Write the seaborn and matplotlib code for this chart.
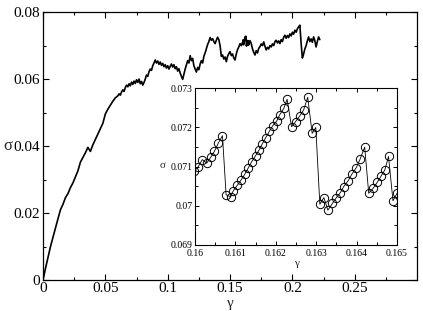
import numpy as np
import pandas as pd
import matplotlib
matplotlib.use("Agg")
import matplotlib.pyplot as plt
import seaborn as sns
from matplotlib.ticker import FixedLocator, FuncFormatter

# ---------------- data ----------------
gamma_rise = [0.000, 0.002, 0.004, 0.006, 0.008, 0.010, 0.012, 0.014, 0.016, 0.018,
              0.020, 0.022, 0.024, 0.026, 0.028, 0.030, 0.032, 0.034, 0.036, 0.038,
              0.040, 0.042, 0.044, 0.046, 0.048, 0.050, 0.052, 0.054, 0.056, 0.058]
sigma_rise = [0.0000, 0.0035, 0.0068, 0.0100, 0.0128, 0.0156, 0.0183, 0.0210, 0.0226, 0.0246,
              0.0258, 0.0276, 0.0290, 0.0308, 0.0326, 0.0352, 0.0366, 0.0380, 0.0396, 0.0384,
              0.0404, 0.0420, 0.0436, 0.0452, 0.0468, 0.0496, 0.0510, 0.0522, 0.0534, 0.0544]

gamma_mid = [0.060, 0.061, 0.062, 0.063, 0.064, 0.065, 0.066, 0.067, 0.068, 0.069,
             0.070, 0.071, 0.072, 0.073, 0.074, 0.075, 0.076, 0.077, 0.078, 0.079,
             0.080, 0.081, 0.082, 0.083, 0.084, 0.085, 0.086, 0.087, 0.088, 0.089,
             0.090, 0.091, 0.092, 0.093, 0.094, 0.095, 0.096, 0.097, 0.098, 0.099,
             0.100, 0.101, 0.102, 0.103, 0.104, 0.105, 0.106, 0.107, 0.108, 0.109,
             0.110, 0.111, 0.112, 0.113, 0.114, 0.115, 0.116, 0.117, 0.118, 0.119,
             0.120, 0.121, 0.122, 0.123, 0.124, 0.125, 0.126, 0.127, 0.128, 0.129,
             0.130, 0.131, 0.132, 0.133, 0.134, 0.135, 0.136, 0.137, 0.138, 0.139,
             0.140, 0.141, 0.142, 0.143, 0.144, 0.145, 0.146, 0.147, 0.148, 0.149,
             0.150, 0.151, 0.152, 0.153, 0.154, 0.155, 0.156, 0.157, 0.158, 0.159]
sigma_mid = [0.0550, 0.0556, 0.0552, 0.0562, 0.0568, 0.0563, 0.0575, 0.0582, 0.0577, 0.0586,
             0.0580, 0.0591, 0.0584, 0.0594, 0.0587, 0.0598, 0.0590, 0.0600, 0.0586, 0.0593,
             0.0582, 0.0590, 0.0600, 0.0612, 0.0608, 0.0622, 0.0630, 0.0626, 0.0640, 0.0648,
             0.0657, 0.0648, 0.0654, 0.0644, 0.0651, 0.0641, 0.0647, 0.0637, 0.0643, 0.0633,
             0.0640, 0.0630, 0.0638, 0.0645, 0.0636, 0.0643, 0.0631, 0.0637, 0.0624, 0.0631,
             0.0618, 0.0608, 0.0599, 0.0615, 0.0630, 0.0642, 0.0655, 0.0648, 0.0670, 0.0655,
             0.0662, 0.0640, 0.0630, 0.0621, 0.0635, 0.0628, 0.0645, 0.0655, 0.0648, 0.0668,
             0.0678, 0.0690, 0.0703, 0.0712, 0.0724, 0.0716, 0.0721, 0.0712, 0.0706, 0.0716,
             0.0725, 0.0718, 0.0700, 0.0668, 0.0672, 0.0660, 0.0666, 0.0652, 0.0668, 0.0676,
             0.0682, 0.0670, 0.0675, 0.0663, 0.0657, 0.0675, 0.0688, 0.0696, 0.0706, 0.0700]

# inset (zoomed window gamma 0.160 - 0.165)
gamma_zoom = [0.15998, 0.16008, 0.16018, 0.16029, 0.16039, 0.16048, 0.16058, 0.16068,
              0.16077, 0.16088, 0.16095, 0.16105, 0.16114, 0.16124, 0.16132, 0.16140,
              0.16150, 0.16159, 0.16167, 0.16175, 0.16184, 0.16192, 0.16202, 0.16210,
              0.16220, 0.16228, 0.16239, 0.16249, 0.16259, 0.16269, 0.16279, 0.16290,
              0.16299, 0.16309, 0.16319, 0.16329, 0.16340, 0.16350, 0.16360, 0.16368,
              0.16379, 0.16389, 0.16399, 0.16409, 0.16420, 0.16430, 0.16441, 0.16451,
              0.16460, 0.16470, 0.16479, 0.16490, 0.16500]
sigma_zoom = [0.07088, 0.07100, 0.07118, 0.07109, 0.07124, 0.07139, 0.07161, 0.07179,
              0.07028, 0.07023, 0.07039, 0.07053, 0.07066, 0.07082, 0.07097, 0.07112,
              0.07128, 0.07143, 0.07159, 0.07174, 0.07190, 0.07204, 0.07216, 0.07233,
              0.07249, 0.07272, 0.07202, 0.07215, 0.07229, 0.07245, 0.07277, 0.07185,
              0.07200, 0.07004, 0.07021, 0.06989, 0.07006, 0.07021, 0.07034, 0.07049,
              0.07064, 0.07082, 0.07097, 0.07120, 0.07150, 0.07032, 0.07045, 0.07060,
              0.07075, 0.07092, 0.07126, 0.07013, 0.07032]

gamma_end = [0.166, 0.167, 0.168, 0.169, 0.170, 0.171, 0.172, 0.173, 0.174, 0.175,
             0.176, 0.177, 0.178, 0.179, 0.180, 0.181, 0.182, 0.183, 0.184, 0.185,
             0.186, 0.187, 0.188, 0.189, 0.190, 0.191, 0.192, 0.193, 0.194, 0.195,
             0.196, 0.197, 0.198, 0.199, 0.200, 0.201, 0.202, 0.203, 0.204, 0.205,
             0.206, 0.207, 0.208, 0.209, 0.210, 0.211, 0.212, 0.213, 0.214, 0.215,
             0.216, 0.217, 0.218, 0.219, 0.220, 0.221, 0.222]
sigma_end = [0.0715, 0.0706, 0.0690, 0.0680, 0.0672, 0.0685, 0.0678, 0.0692, 0.0697, 0.0705,
             0.0700, 0.0711, 0.0698, 0.0687, 0.0695, 0.0690, 0.0700, 0.0696, 0.0705, 0.0700,
             0.0712, 0.0716, 0.0708, 0.0714, 0.0706, 0.0718, 0.0712, 0.0725, 0.0731, 0.0722,
             0.0730, 0.0724, 0.0735, 0.0729, 0.0740, 0.0734, 0.0746, 0.0740, 0.0750, 0.0756,
             0.0761, 0.0707, 0.0663, 0.0675, 0.0690, 0.0700, 0.0714, 0.0726, 0.0712, 0.0720,
             0.0710, 0.0726, 0.0715, 0.0696, 0.0712, 0.0726, 0.0718]

main_xticks = [0, 0.05, 0.1, 0.15, 0.2, 0.25]
main_yticks = [0, 0.02, 0.04, 0.06, 0.08]
inset_xticks = [0.16, 0.161, 0.162, 0.163, 0.164, 0.165]
inset_yticks = [0.069, 0.07, 0.071, 0.072, 0.073]

# ---------------- figure ----------------
sns.set_style("ticks")
plt.rcParams['font.family'] = ['Liberation Serif', 'DejaVu Serif']
plt.rcParams['mathtext.fontset'] = 'stix'

main_df = pd.DataFrame({
    "gamma": gamma_rise + gamma_mid + gamma_zoom + gamma_end,
    "sigma": sigma_rise + sigma_mid + sigma_zoom + sigma_end,
})
zoom_df = pd.DataFrame({"gamma": gamma_zoom, "sigma": sigma_zoom})

fig = plt.figure(figsize=(4.23, 3.11), dpi=100)
ax = fig.add_axes([0.1017, 0.0997, 0.8843, 0.8613])
sns.lineplot(data=main_df, x="gamma", y="sigma", ax=ax, sort=False, estimator=None,
             color="black", linewidth=1.2)

ax.set_xlim(0, 0.3)
ax.set_ylim(0, 0.08)
ax.xaxis.set_major_locator(FixedLocator(main_xticks))
ax.xaxis.set_minor_locator(FixedLocator([0.025, 0.075, 0.125, 0.175, 0.225, 0.275]))
ax.yaxis.set_major_locator(FixedLocator(main_yticks))
ax.yaxis.set_minor_locator(FixedLocator([0.01, 0.03, 0.05, 0.07]))
fmt = FuncFormatter(lambda v, p: f"{v:g}")
ax.xaxis.set_major_formatter(fmt)
ax.yaxis.set_major_formatter(fmt)
ax.tick_params(which="both", direction="in", top=True, right=True, colors="black",
               labelsize=11)
ax.tick_params(which="major", length=4, width=0.8)
ax.tick_params(which="minor", length=2.5, width=0.8)
ax.tick_params(axis="x", pad=1.5)
ax.tick_params(axis="y", pad=2)
ax.set_xlabel("")
ax.set_ylabel("")
for s in ax.spines.values():
    s.set_linewidth(0.9)
    s.set_color("black")
fig.text(8 / 423, 1 - 146 / 311, "σ", fontsize=12, ha="center", va="center")
fig.text(230 / 423, 1 - 304 / 311, "γ", fontsize=11, ha="center", va="center")

# inset
ins = fig.add_axes([195 / 423, 1 - 245 / 311, (397 - 195) / 423, (245 - 88.3) / 311])
sns.lineplot(data=zoom_df, x="gamma", y="sigma", ax=ins, sort=False, estimator=None,
             color="black", linewidth=0.6, marker="o", markersize=6,
             markerfacecolor="none", markeredgecolor="black", markeredgewidth=0.7)
ins.set_xlim(0.16, 0.165)
ins.set_ylim(0.069, 0.073)
ins.xaxis.set_major_locator(FixedLocator(inset_xticks))
ins.xaxis.set_minor_locator(FixedLocator([0.1605, 0.1615, 0.1625, 0.1635, 0.1645]))
ins.yaxis.set_major_locator(FixedLocator(inset_yticks))
ins.yaxis.set_minor_locator(FixedLocator([0.0695, 0.0705, 0.0715, 0.0725]))
ins.xaxis.set_major_formatter(fmt)
ins.yaxis.set_major_formatter(fmt)
ins.tick_params(which="both", direction="in", top=True, right=True, colors="black",
                labelsize=7)
ins.tick_params(axis="x", pad=3)
ins.tick_params(axis="y", pad=1.5)
ins.tick_params(which="major", length=3, width=0.7)
ins.tick_params(which="minor", length=2, width=0.7)
ins.set_xlabel("")
ins.set_ylabel("")
for s in ins.spines.values():
    s.set_linewidth(0.8)
    s.set_color("black")
fig.text(163 / 423, 1 - 165 / 311, "σ", fontsize=8, ha="center", va="center")
fig.text(296 / 423, 1 - 263 / 311, "γ", fontsize=8, ha="center", va="center")

fig.savefig("out.png", dpi=100)
